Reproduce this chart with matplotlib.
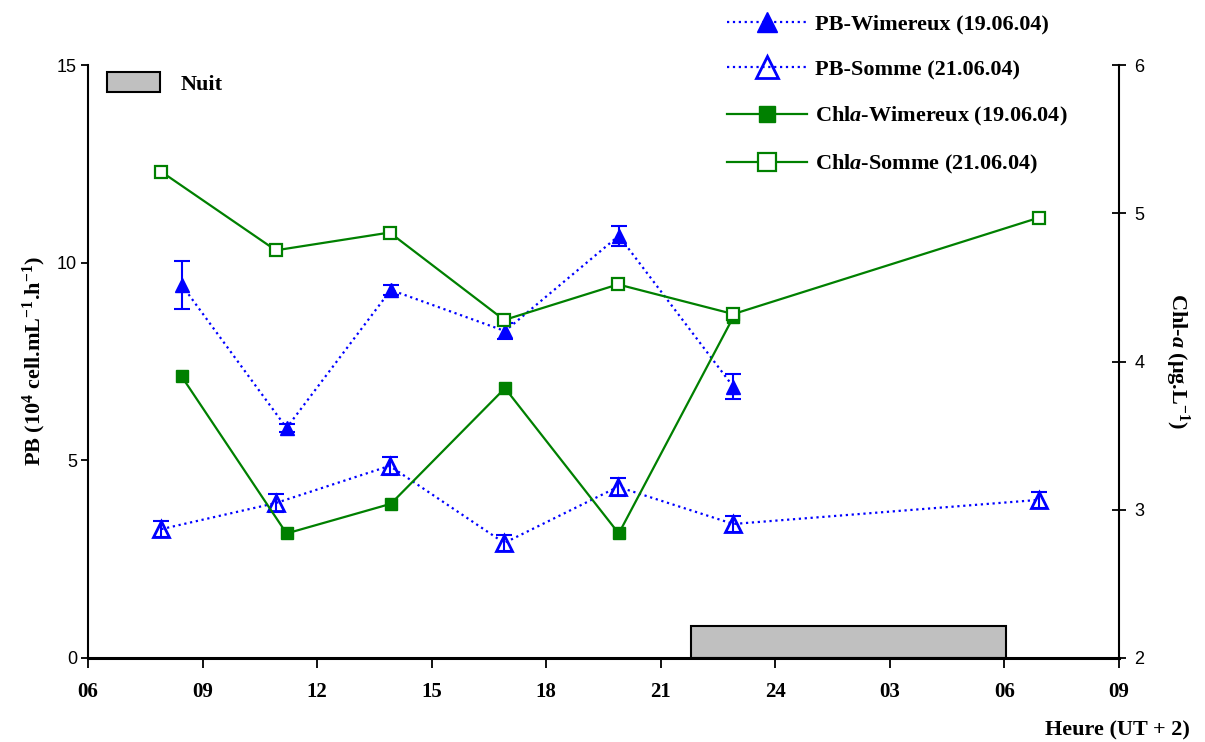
import matplotlib
matplotlib.use("Agg")
import matplotlib.pyplot as plt
from matplotlib.patches import Patch, Rectangle

plt.rcParams['font.family'] = ['Liberation Serif', 'DejaVu Serif']
plt.rcParams['mathtext.fontset'] = 'custom'
plt.rcParams['mathtext.rm'] = 'Liberation Serif:bold'
plt.rcParams['mathtext.it'] = 'Liberation Serif:italic:bold'
plt.rcParams['mathtext.bf'] = 'Liberation Serif:bold'

# ---- data ----
hours_wim = [8.45, 11.2, 13.93, 16.92, 19.9, 22.9]
hours_som = [7.92, 10.92, 13.9, 16.9, 19.88, 22.9, 30.9]

pb_wim = [9.44, 5.82, 9.31, 8.27, 10.68, 6.86]
pb_wim_err = [0.6, 0.1, 0.13, 0.2, 0.25, 0.32]
pb_som = [3.26, 3.92, 4.86, 2.91, 4.33, 3.39, 4.0]
pb_som_err = [0.2, 0.22, 0.22, 0.2, 0.22, 0.2, 0.2]

chla_wim = [3.90, 2.84, 3.04, 3.82, 2.84, 4.30]
chla_som = [5.28, 4.75, 4.87, 4.28, 4.52, 4.32, 4.97]

night_start, night_end, night_height = 21.8, 30.05, 0.8

xticks = [6, 9, 12, 15, 18, 21, 24, 27, 30, 33]
xticklabels = ['06', '09', '12', '15', '18', '21', '24', '03', '06', '09']

labels = ['PB-Wimereux (19.06.04)', 'PB-Somme (21.06.04)',
          r'Chl$\mathit{a}$-Wimereux (19.06.04)', r'Chl$\mathit{a}$-Somme (21.06.04)']

BLUE = '#0000ff'
GREEN = '#008000'

fig = plt.figure(figsize=(12.05, 7.42), dpi=100)
ax = fig.add_axes([88/1205, 1-658/742, (1119-88)/1205, (658-65)/742])
ax2 = ax.twinx()

# night box
ax.add_patch(Rectangle((night_start, 0), night_end - night_start, night_height,
                       facecolor='#c0c0c0', edgecolor='black', linewidth=1.5, zorder=1))

# PB series (left axis)
l1, = ax.plot(hours_wim, pb_wim, linestyle=':', color=BLUE, linewidth=1.6,
              marker='^', markersize=10, markerfacecolor=BLUE, markeredgecolor=BLUE, zorder=3)
ax.errorbar(hours_wim, pb_wim, yerr=pb_wim_err, fmt='none', ecolor=BLUE,
            elinewidth=1.5, capsize=6, capthick=1.5, zorder=3)
l2, = ax.plot(hours_som, pb_som, linestyle=':', color=BLUE, linewidth=1.6,
              marker='^', markersize=11, markerfacecolor='none', markeredgecolor=BLUE,
              markeredgewidth=2, zorder=3)
ax.errorbar(hours_som, pb_som, yerr=pb_som_err, fmt='none', ecolor=BLUE,
            elinewidth=1.5, capsize=6, capthick=1.5, zorder=3)

# Chla series (right axis)
l3, = ax2.plot(hours_wim, chla_wim, linestyle='-', color=GREEN, linewidth=1.6,
               marker='s', markersize=8, markerfacecolor=GREEN, markeredgecolor=GREEN)
l4, = ax2.plot(hours_som, chla_som, linestyle='-', color=GREEN, linewidth=1.6,
               marker='s', markersize=9, markerfacecolor='white', markeredgecolor=GREEN,
               markeredgewidth=1.6)

ax.set_xlim(6, 33)
ax.set_ylim(0, 15)
ax2.set_ylim(2, 6)
ax.set_xticks(xticks)
ax.set_xticklabels(xticklabels, fontsize=15, fontweight='bold')
ax.set_yticks([0, 5, 10, 15])
ax2.set_yticks([2, 3, 4, 5, 6])
for a in (ax, ax2):
    for lab in a.get_yticklabels():
        lab.set_family('Liberation Sans')
        lab.set_fontsize(13)
ax.tick_params(axis='x', direction='out', length=7, width=1.3, pad=10)
ax.tick_params(axis='y', direction='out', length=5, width=1.3, pad=3)
ax2.tick_params(axis='y', direction='inout', length=10, width=1.3, pad=6)

for a in (ax, ax2):
    a.spines['top'].set_visible(False)
ax.spines['right'].set_visible(False)
ax.spines['left'].set_linewidth(1.5)
ax.spines['bottom'].set_linewidth(2.2)
ax2.spines['left'].set_visible(False)
ax2.spines['bottom'].set_visible(False)
ax2.spines['right'].set_linewidth(1.5)

ax.set_ylabel(r'PB (10$^{4}$ cell.mL$^{-1}$.h$^{-1}$)', fontsize=16, fontweight='bold', labelpad=6)
ax2.set_ylabel(r'Chl-$\mathit{a}$ ($\mathbf{\mu}$g.L$^{-1}$)', fontsize=16, fontweight='bold',
               rotation=-90, labelpad=34)
fig.text(1190/1205, 1-730/742, 'Heure (UT + 2)', ha='right', va='center',
         fontsize=16, fontweight='bold')

# Nuit legend
ax.legend(handles=[Patch(facecolor='#c0c0c0', edgecolor='black', linewidth=1.5)],
          labels=['Nuit'], loc='upper left',
          bbox_to_anchor=((107-88)/1031, 1-(72-65)/593),
          frameon=False, prop={'weight': 'bold', 'size': 16},
          handlelength=2.4, handleheight=1.0, handletextpad=0.9,
          borderpad=0, borderaxespad=0)

# series legend
fig.legend(handles=[l1, l2, l3, l4], labels=labels, loc='upper left',
           bbox_to_anchor=(716/1205, 1-3/742), frameon=False,
           prop={'weight': 'bold', 'size': 16}, handlelength=3.6,
           handletextpad=0.35, labelspacing=1.12, borderpad=0, numpoints=1,
           markerscale=1.4)

fig.savefig('out.png', dpi=100)
